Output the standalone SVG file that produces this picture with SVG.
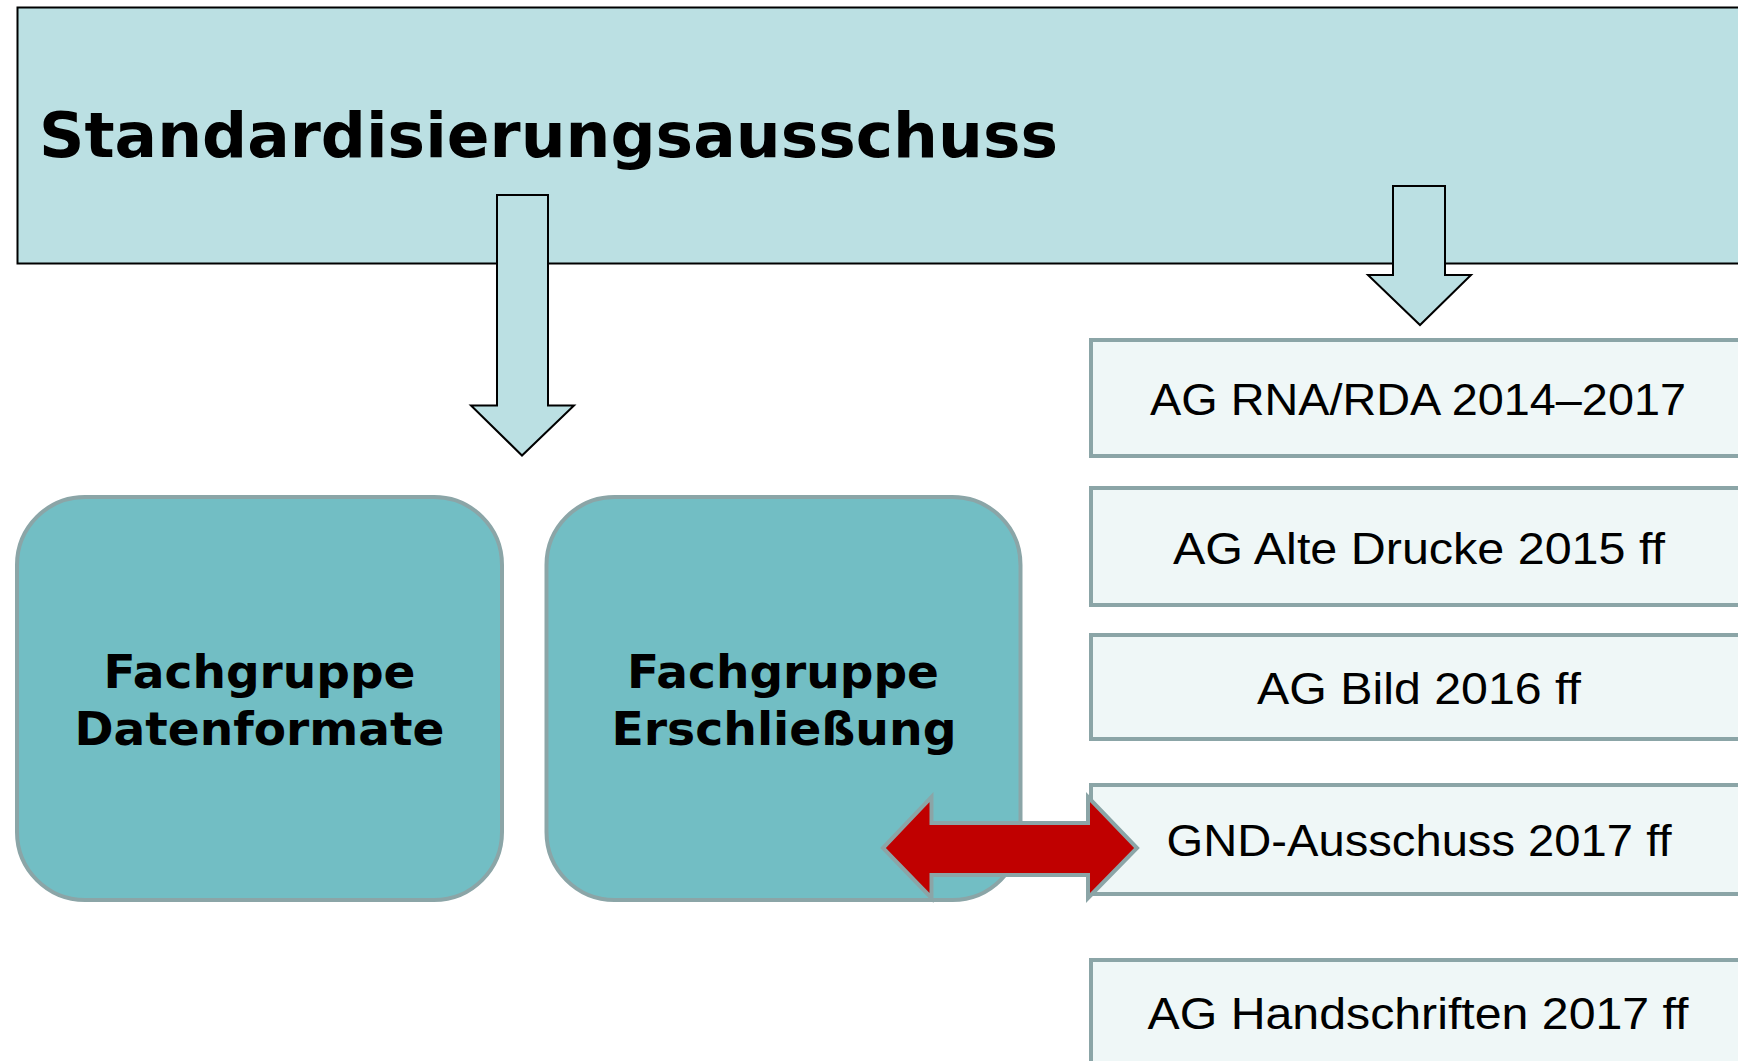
<svg xmlns="http://www.w3.org/2000/svg" width="1738" height="1061" viewBox="0 0 1738 1061">
<style>
.top{fill:#BBE0E3;stroke:#000;stroke-width:2}
.arr{fill:#BBE0E3;stroke:#000;stroke-width:2;stroke-linejoin:miter}
.fg{fill:#72BEC4;stroke:#8BA5A7;stroke-width:4}
.ag{fill:#EFF7F7;stroke:#8BA5A7;stroke-width:4}
.red{fill:#C00000;stroke:#8BA5A7;stroke-width:4;stroke-linejoin:miter}
.title{font-family:"DejaVu Sans",Verdana,sans-serif;font-weight:bold;font-size:63px;fill:#000}
.fgt{font-family:"DejaVu Sans",Verdana,sans-serif;font-weight:bold;font-size:47px;fill:#000;text-anchor:middle}
.agt{font-family:"Liberation Sans",Arial,sans-serif;font-size:44px;fill:#000;text-anchor:middle}
</style>
<rect width="1738" height="1061" fill="#FFFFFF"/>
<g id="standardisierungsausschuss">
<rect class="top" x="17.5" y="7.5" width="1730" height="256"/>
<text class="title" x="39" y="157" textLength="1019" lengthAdjust="spacingAndGlyphs">Standardisierungsausschuss</text>
</g>
<g id="fg-datenformate">
<rect class="fg" x="17" y="497" width="485" height="403" rx="68" ry="68"/>
<text class="fgt" x="259.5" y="688" textLength="312" lengthAdjust="spacingAndGlyphs">Fachgruppe</text>
<text class="fgt" x="259.5" y="745" textLength="370" lengthAdjust="spacingAndGlyphs">Datenformate</text>
</g>
<g id="fg-erschliessung">
<rect class="fg" x="546.5" y="497" width="474" height="403" rx="68" ry="68"/>
<text class="fgt" x="783" y="688" textLength="312" lengthAdjust="spacingAndGlyphs">Fachgruppe</text>
<text class="fgt" x="784" y="745" textLength="345" lengthAdjust="spacingAndGlyphs">Erschließung</text>
</g>
<g id="ag-rna-rda">
<rect class="ag" x="1091" y="340" width="660" height="116"/>
<text class="agt" x="1418" y="415" textLength="536" lengthAdjust="spacingAndGlyphs">AG RNA/RDA 2014–2017</text>
</g>
<g id="ag-alte-drucke">
<rect class="ag" x="1091" y="488" width="660" height="117"/>
<text class="agt" x="1419" y="564" textLength="492" lengthAdjust="spacingAndGlyphs">AG Alte Drucke 2015 ff</text>
</g>
<g id="ag-bild">
<rect class="ag" x="1091" y="635" width="660" height="104"/>
<text class="agt" x="1419" y="704" textLength="324" lengthAdjust="spacingAndGlyphs">AG Bild 2016 ff</text>
</g>
<g id="gnd-ausschuss">
<rect class="ag" x="1091" y="785" width="660" height="109"/>
<text class="agt" x="1419" y="856" textLength="505" lengthAdjust="spacingAndGlyphs">GND-Ausschuss 2017 ff</text>
</g>
<g id="ag-handschriften">
<rect class="ag" x="1091" y="960" width="660" height="120"/>
<text class="agt" x="1418" y="1029" textLength="541" lengthAdjust="spacingAndGlyphs">AG Handschriften 2017 ff</text>
</g>
<g id="connectors">
<polygon class="arr" points="497,195 548,195 548,405.5 574,405.5 522,455.5 471,405.5 497,405.5"/>
<polygon class="arr" points="1393,186 1445,186 1445,275 1471,275 1420,325 1368,275 1393,275"/>
<polygon class="red" points="883,848 931.5,797 931.5,823 1088,823 1088,797 1137,848 1088,898 1088,875 931.5,875 931.5,898"/>
</g>
</svg>
